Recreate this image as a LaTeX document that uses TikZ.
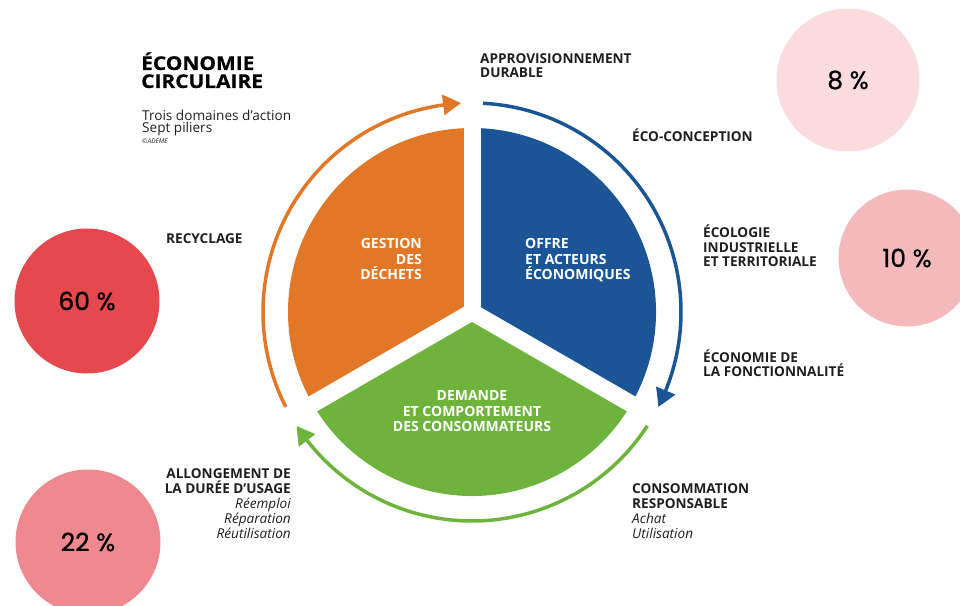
\documentclass[tikz,border=0pt]{standalone}
\usepackage{fontspec}
\setmainfont{Open Sans}
\newfontfamily\pctfont[FakeBold=0.8]{Poppins}
\newfontfamily\titlefont[FakeStretch=1.1,FakeBold=0.6]{Open Sans}
\usetikzlibrary{arrows.meta,bending}
\definecolor{orangeA}{HTML}{E07828}
\definecolor{blueA}{HTML}{1B5596}
\definecolor{greenA}{HTML}{6EB43C}
\definecolor{pctA}{HTML}{E5484D}
\definecolor{pctB}{HTML}{EE8A8F}
\definecolor{pctC}{HTML}{F4B9BD}
\definecolor{pctD}{HTML}{FADCDF}
\definecolor{txt}{HTML}{1E1E1E}
\begin{document}
\begin{tikzpicture}[x=1pt,y=1pt,
  lbl/.style={font=\fontsize{13.6}{14.8}\selectfont\bfseries, text=txt, inner sep=0pt},
  inlbl/.style={font=\fontsize{14}{15.5}\selectfont\bfseries, text=white, inner sep=0pt},
  ring/.style={line width=3.5pt, -{Triangle[length=18pt,width=20pt,bend]}},
  pct/.style={circle, fill=#1, minimum size=143pt, inner sep=0pt, text=black,
    font=\pctfont\fontsize{25}{25}\selectfont}
]
\useasboundingbox (0,0) rectangle (960,605);
\clip (0,0) rectangle (960,605);

% percentage circles
\node[pct=pctD] (p8) at (848,525) {8 \%};
\node[pct=pctC, minimum size=137pt] (p10) at (907,347) {10 \%};
\node[pct=pctA, minimum size=145pt] (p60) at (87,304) {60 \%};
\node[pct=pctB, minimum size=145pt] (p22) at (88,63) {22 \%};

% central pie
\coordinate (c) at (472,293);
\fill[orangeA] (c) -- ++(90:184) arc[start angle=90,end angle=210,radius=184] -- cycle;
\fill[blueA] (c) -- ++(-30:184) arc[start angle=-30,end angle=90,radius=184] -- cycle;
\fill[greenA] (c) -- ++(210:184) arc[start angle=210,end angle=330,radius=184] -- cycle;
\foreach \a in {90,210,330} \draw[white, line width=17pt] (c) -- ++(\a:195);

% ring arrows
\draw[ring, orangeA] ([shift={(207:209)}]c) arc[start angle=207, end angle=93, radius=209];
\draw[ring, blueA] ([shift={(87:209)}]c) arc[start angle=87, end angle=-27, radius=209];
\draw[ring, greenA] ([shift={(-33:209)}]c) arc[start angle=-33, end angle=-147, radius=209];

% inner labels (base = baseline of last line)
\node[inlbl, align=right, anchor=base east] (gest) at (422,325) {GESTION\\DES\\DÉCHETS};
\node[inlbl, align=left, anchor=base west] (offre) at (525,325) {OFFRE\\ET ACTEURS\\ÉCONOMIQUES};
\node[inlbl, align=center, anchor=base] (dem) at (472,173) {DEMANDE\\ET COMPORTEMENT\\DES CONSOMMATEURS};

% title
\node[font=\titlefont\fontsize{19}{18}\selectfont\bfseries, text=black, inner sep=0pt, align=left, anchor=base west] (title) at (141,517) {ÉCONOMIE\\CIRCULAIRE};
\node[font=\fontsize{13.6}{12.5}\selectfont, text=txt, inner sep=0pt, align=left, anchor=base west] (subt) at (142,472) {Trois domaines d’action\\Sept piliers};
\node[font=\fontsize{6.5}{6.5}\selectfont\itshape, text=txt, inner sep=0pt, anchor=base west] (copy) at (142,461) {©ADEME};

% outer labels
\node[lbl, align=left, anchor=base west] (appro) at (480,527) {APPROVISIONNEMENT\\DURABLE};
\node[lbl, anchor=base west] (eco) at (632,463) {ÉCO-CONCEPTION};
\node[lbl, align=left, anchor=base west] (ecol) at (703,338) {ÉCOLOGIE\\INDUSTRIELLE\\ET TERRITORIALE};
\node[lbl, align=left, anchor=base west] (fonc) at (703,228) {ÉCONOMIE DE\\LA FONCTIONNALITÉ};
\node[lbl, align=left, anchor=base west] (conso) at (632,67) {CONSOMMATION\\RESPONSABLE\\{\mdseries\itshape Achat}\\{\mdseries\itshape Utilisation}};
\node[lbl, align=right, anchor=base east] (allong) at (291,67) {ALLONGEMENT DE\\LA DURÉE D’USAGE\\{\mdseries\itshape Réemploi}\\{\mdseries\itshape Réparation}\\{\mdseries\itshape Réutilisation}};
\node[lbl, anchor=base west] (recy) at (166,361) {RECYCLAGE};
\end{tikzpicture}
\end{document}
